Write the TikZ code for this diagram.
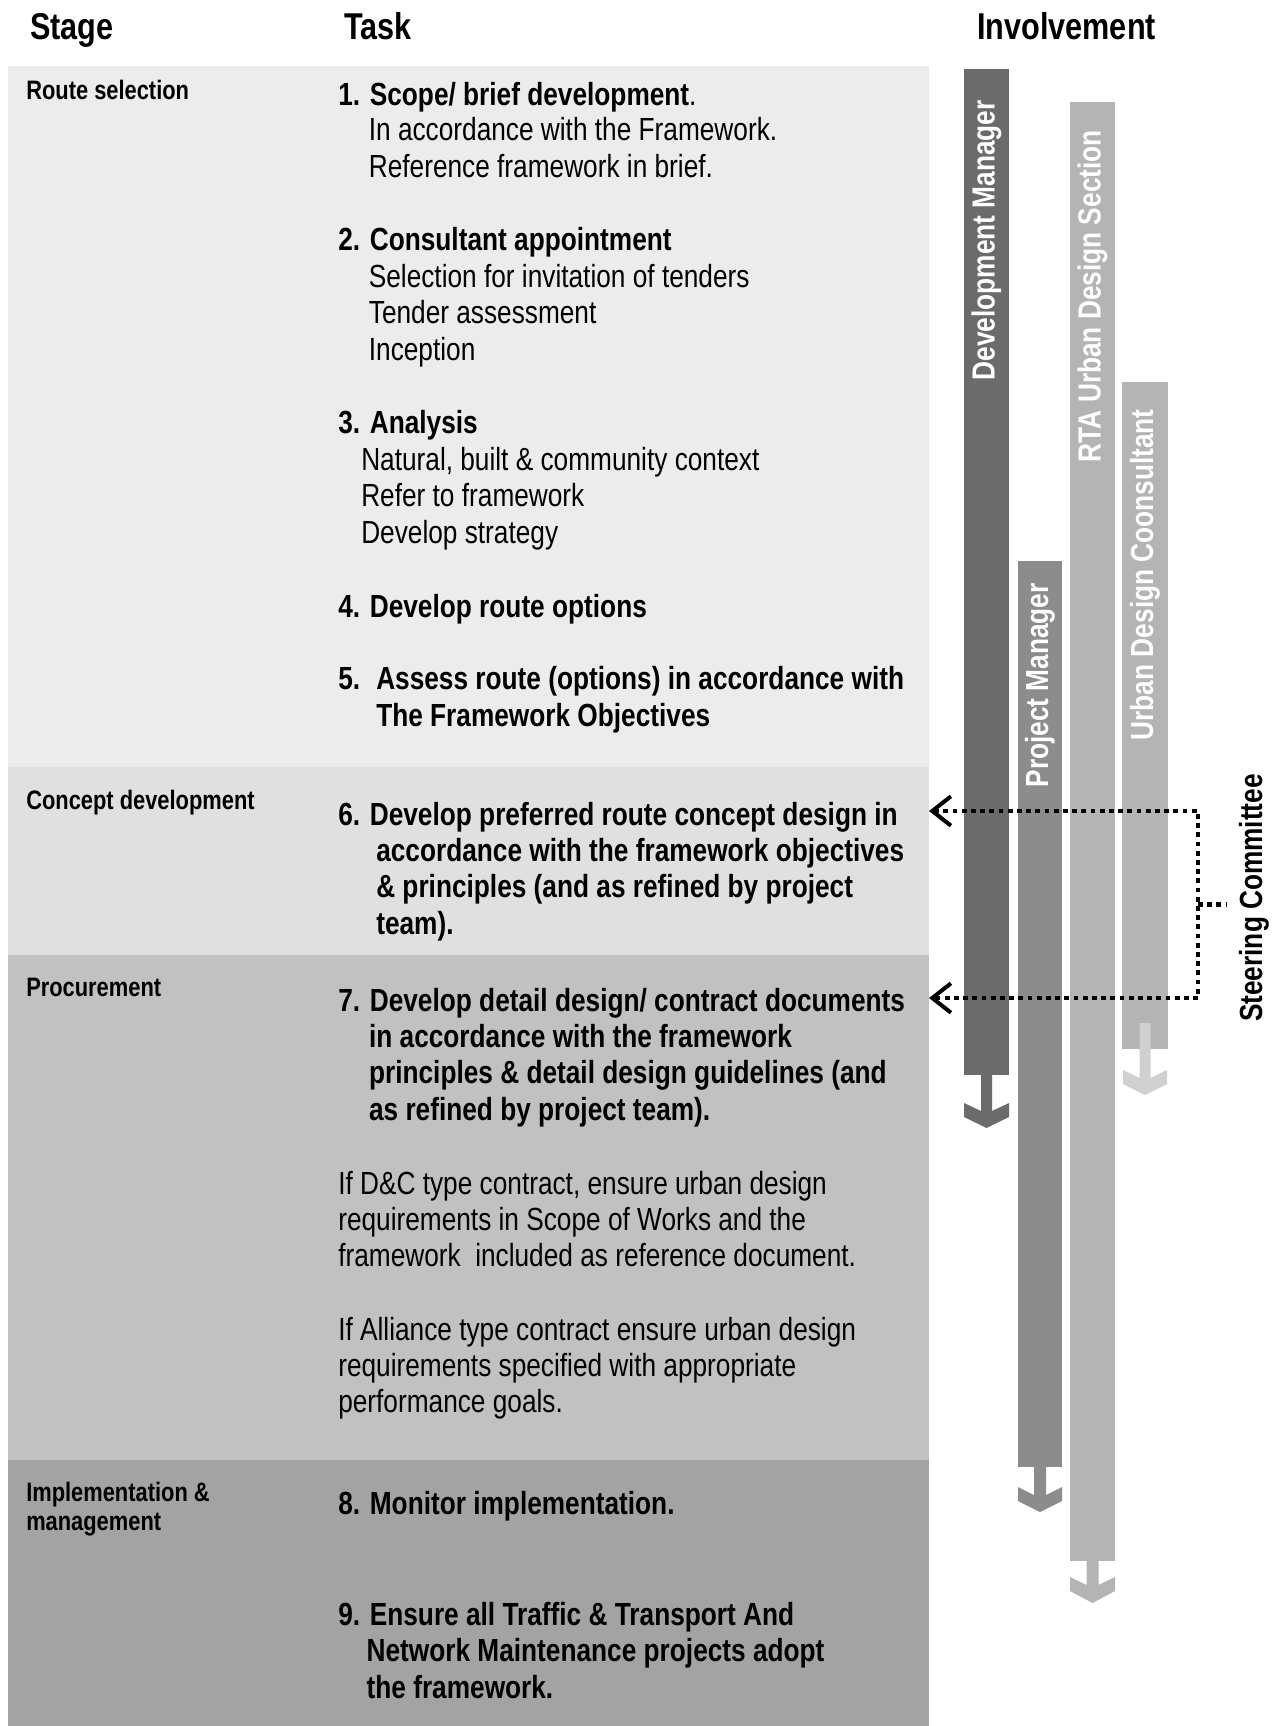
\documentclass[tikz,border=0pt]{standalone}
\usepackage{fontspec}
\setmainfont{Liberation Sans}[FakeStretch=0.82]
\usetikzlibrary{arrows.meta}

\definecolor{bandRoute}{HTML}{ECECEC}
\definecolor{bandConcept}{HTML}{E0E0E0}
\definecolor{bandProc}{HTML}{C1C1C1}
\definecolor{bandImpl}{HTML}{A3A3A3}
\definecolor{barDM}{HTML}{6B6B6B}
\definecolor{barPM}{HTML}{8C8C8C}
\definecolor{barRTA}{HTML}{B4B4B4}
\definecolor{barUDC}{HTML}{B4B4B4}
\definecolor{arrUDC}{HTML}{D0D0D0}

\begin{document}
\begin{tikzpicture}[x=0.75pt,y=-0.75pt,
  head/.style={inner sep=0pt, anchor=base west, font=\bfseries\fontsize{28}{32}\selectfont},
  stageLbl/.style={inner sep=0pt, anchor=base west, align=left, font=\bfseries\fontsize{20}{21.5}\selectfont},
  taskHead/.style={inner sep=0pt, anchor=base west, align=left, font=\bfseries\fontsize{24}{27.2}\selectfont},
  taskText/.style={inner sep=0pt, anchor=base west, align=left, font=\fontsize{24}{27.2}\selectfont},
  barLbl/.style={inner sep=0pt, rotate=90, anchor=east, text=white, font=\bfseries\fontsize{24}{27}\selectfont},
  scLine/.style={line width=3.3pt, dash pattern=on 3.6pt off 3.3pt}]
\useasboundingbox (0,0) rectangle (1282,1726);
% stage bands
\fill[bandRoute] (8,66) rectangle (929,767);
\fill[bandConcept] (8,767) rectangle (929,955);
\fill[bandProc] (8,955) rectangle (929,1460);
\fill[bandImpl] (8,1460) rectangle (929,1726);

% column headings
\node[head](hStage) at (30,40){Stage};
\node[head](hTask) at (344,40){Task};
\node[head](hInv) at (977,40){Involvement};

% stages (multi-line nodes sit on their last line)
\node[stageLbl](sRoute) at (26,100){Route selection};
\node[stageLbl](sConcept) at (26,809){Concept development};
\node[stageLbl](sProc) at (26,996){Procurement};
\node[stageLbl](sImpl) at (26,1530.6){Implementation \&\\management};

% tasks
\node[taskHead](t1) at (338,105.6){1. Scope/ brief development\textmd{.}};
\node[taskText](t1Txt) at (368.6,177.2){In accordance with the Framework.\\Reference framework in brief.};

\node[taskHead](t2) at (338,250.9){2. Consultant appointment};
\node[taskText](t2Txt) at (368.6,360){Selection for invitation of tenders\\Tender assessment\\Inception};

\node[taskHead](t3) at (338,433.6){3. Analysis};
\node[taskText](t3Txt) at (361,543){Natural, built \& community context\\Refer to framework\\Develop strategy};

\node[taskHead](t4) at (338,617.3){4. Develop route options};

\node[taskHead](t5) at (338,726.2){\makebox[28.5pt][l]{5.}Assess route (options) in accordance with\\\hspace*{28.5pt}The Framework Objectives};

\node[taskHead](t6) at (338,934.2){6. Develop preferred route concept design in\\\hspace*{28.5pt}accordance with the framework objectives\\\hspace*{28.5pt}\& principles (and as refined by project\\\hspace*{28.5pt}team).};

\node[taskHead](t7) at (338,1120.2){7. Develop detail design/ contract documents\\\hspace*{23.1pt}in accordance with the framework\\\hspace*{23.1pt}principles \& detail design guidelines (and\\\hspace*{23.1pt}as refined by project team).};
\node[taskText](t7Dc) at (338,1266.6){If D\&C type contract, ensure urban design\\requirements in Scope of Works and the\\framework\ \ included as reference document.};
\node[taskText](t7All) at (338,1412.9){If Alliance type contract ensure urban design\\requirements specified with appropriate\\performance goals.};

\node[taskHead](t8) at (338,1514.2){8. Monitor implementation.};
\node[taskHead](t9) at (338,1698){9. Ensure all Traffic \& Transport And\\\hspace*{21.3pt}Network Maintenance projects adopt\\\hspace*{21.3pt}the framework.};

% involvement bars
\fill[barDM] (964,69) rectangle (1009,1075);
\fill[barDM] (981,1075) -- (981,1111) -- (964,1103) -- (964,1117) -- (986.5,1128) -- (1009,1117) -- (1009,1103) -- (992,1111) -- (992,1075) -- cycle;
\node[barLbl](lDM) at (986.5,100){Development Manager};

\fill[barPM] (1018,561) rectangle (1062,1467);
\fill[barPM] (1034,1467) -- (1034,1495) -- (1018,1487) -- (1018,1501) -- (1040,1512) -- (1062,1501) -- (1062,1487) -- (1046,1495) -- (1046,1467) -- cycle;
\node[barLbl](lPM) at (1040,583){Project Manager};

\fill[barRTA] (1070,102) rectangle (1115,1561);
\fill[barRTA] (1086.5,1561) -- (1086.5,1585) -- (1070,1577) -- (1070,1591) -- (1092.5,1603) -- (1115,1591) -- (1115,1577) -- (1098.5,1585) -- (1098.5,1561) -- cycle;
\node[barLbl](lRTA) at (1092.5,130){RTA Urban Design Section};

\fill[barUDC] (1122,382) rectangle (1168,1049);
\fill[arrUDC] (1139.5,1023) -- (1139.5,1078) -- (1123,1070) -- (1123,1084) -- (1145,1095) -- (1167,1084) -- (1167,1070) -- (1150.5,1078) -- (1150.5,1023) -- cycle;
\node[barLbl](lUDC) at (1145,409){Urban Design Coonsultant};

% steering committee
\node[inner sep=0pt, rotate=90, font=\bfseries\fontsize{24}{27}\selectfont](steer) at (1254,898){Steering Committee};
\coordinate (tip6) at (929,811);
\coordinate (tip7) at (929,998);
\coordinate (scTop) at (1198,811);
\coordinate (scBot) at (1198,998);
\coordinate (scMid) at (1198,904.5);
\coordinate (scEnd) at (1226,904.5);
\draw[scLine, {Straight Barb[length=14pt,width=22pt,line width=3pt]}-{Straight Barb[length=14pt,width=22pt,line width=3pt]}] (tip6) -- (scTop) -- (scBot) -- (tip7);
\draw[scLine] (scMid) -- (scEnd);

\end{tikzpicture}
\end{document}
